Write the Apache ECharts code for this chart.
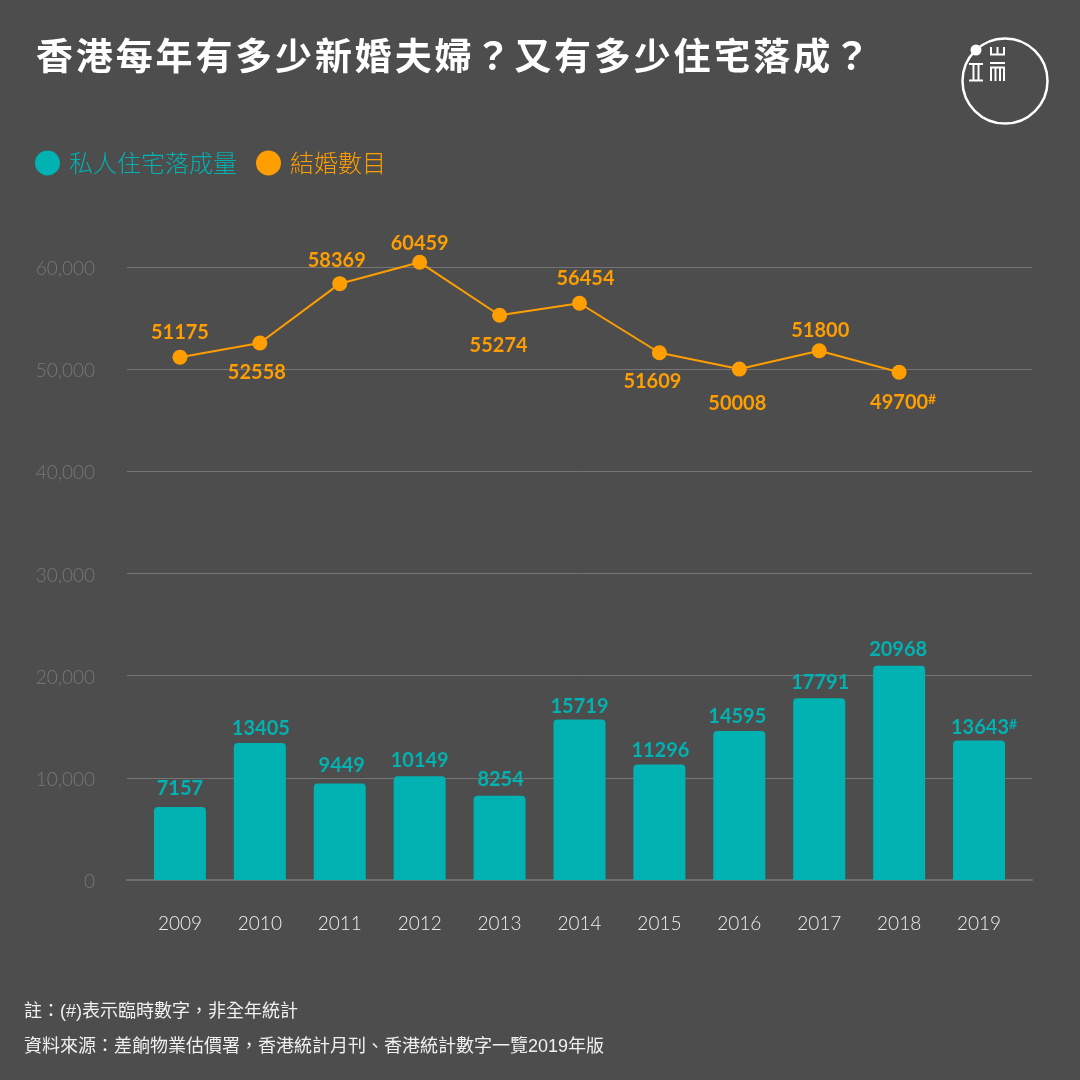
<!DOCTYPE html>
<html>
<head>
<meta charset="utf-8">
<title>香港每年有多少新婚夫婦？又有多少住宅落成？</title>
<style>
	html, body { margin: 0; padding: 0; background: #4d4d4d; }
	#box { width: 1080px; height: 1080px; }
	h1 {
		position: absolute;
		left: 36px;
		top: 35px;
		margin: 0;
		color: #fff;
		font: bold 37px/38px "Noto Sans CJK TC", "Noto Sans", sans-serif;
		letter-spacing: 2.85px;
		white-space: nowrap;
		z-index: 2;
	}
</style>
<script src="https://cdn.jsdelivr.net/npm/echarts@6/dist/echarts.min.js"></script>
</head>
<body>
<h1>香港每年有多少新婚夫婦？又有多少住宅落成？</h1>
<div id="box"></div>
<script>
var years = ['2009', '2010', '2011', '2012', '2013', '2014', '2015', '2016', '2017', '2018', '2019'];
var housing = [7157, 13405, 9449, 10149, 8254, 15719, 11296, 14595, 17791, 20968, 13643];
var marriages = [51175, 52558, 58369, 60459, 55274, 56454, 51609, 50008, 51800, 49700];
// the last figure of each series is provisional
var housingProvisional = [10];
var marriagesProvisional = [9];

// label placement, kept apart from the values
var housingLabelOffset = [[0, -3], [1, 1], [2, -3], [0, -1], [1, -1], [0, 2], [1, 1], [-2, 1], [1, -1], [-1, -1], [5, 2]];
var marriageLabelPos = ['top', 'bottom', 'top', 'top', 'bottom', 'top', 'bottom', 'bottom', 'top', 'bottom'];
var marriageLabelOffset = [[0, -2], [-3, 7], [-3, -1], [0, 4], [-1, 8], [6, -2], [-7, 6], [-2, 12], [1, 2], [4, 8]];

var TEAL = '#00b2b2';
var ORANGE = '#ff9e00';
var CJK = '"Noto Sans CJK TC", "Noto Sans", sans-serif';
var NUM = 'Lato, "Noto Sans", sans-serif';

function valueLabel(color) {
	return {
		show: true,
		color: color,
		fontFamily: NUM,
		fontWeight: 'bold',
		fontSize: 20,
		rich: {
			sup: { color: color, fontFamily: NUM, fontWeight: 'bold', fontSize: 14, verticalAlign: 'top', lineHeight: 14, padding: [0, 0, 4, 0] }
		}
	};
}

function labelText(params, provisional) {
	if (provisional.indexOf(params.dataIndex) >= 0) {
		return params.value + '{sup|#}';
	}
	return '' + params.value;
}

var chart = echarts.init(document.getElementById('box'));

var barData = housing.map(function(v, i) {
	return { value: v, label: { offset: housingLabelOffset[i] } };
});
var barLabel = valueLabel(TEAL);
barLabel.position = 'top';
barLabel.distance = 5;
barLabel.formatter = function(params) { return labelText(params, housingProvisional); };

var lineData = marriages.map(function(v, i) {
	return {
		value: v,
		label: { position: marriageLabelPos[i], offset: marriageLabelOffset[i] }
	};
});
var lineLabel = valueLabel(ORANGE);
lineLabel.formatter = function(params) { return labelText(params, marriagesProvisional); };

var logoLine = { stroke: '#fff', lineWidth: 2, fill: null };
var logoRing = { stroke: '#fff', lineWidth: 2.5, fill: null };
var noteFont = '"Liberation Sans", ' + CJK;

var option = {
	backgroundColor: '#4d4d4d',
	animation: false,
	title: [
		{
			text: '註：(#)表示臨時數字，非全年統計',
			left: 24,
			top: 1003,
			padding: 0,
			textStyle: { color: '#f0f0f0', fontFamily: noteFont, fontWeight: 'normal', fontSize: 18 }
		},
		{
			text: '資料來源：差餉物業估價署，香港統計月刊、香港統計數字一覽2019年版',
			left: 24,
			top: 1038,
			padding: 0,
			textStyle: { color: '#f0f0f0', fontFamily: noteFont, fontWeight: 'normal', fontSize: 18 }
		}
	],
	legend: {
		left: 35,
		top: 150.5,
		padding: 0,
		icon: 'circle',
		itemWidth: 25,
		itemHeight: 25,
		itemGap: 19,
		data: ['私人住宅落成量', '結婚數目'],
		textStyle: { color: 'inherit', fontFamily: CJK, fontWeight: 300, fontSize: 24, padding: [0, 0, 0, 4] }
	},
	grid: [
		{ left: 127, right: 48, top: 267, bottom: 200 },
		{ left: 140, width: 879, top: 267, bottom: 200 }
	],
	xAxis: [
		{
			gridIndex: 0,
			type: 'category',
			data: years,
			axisTick: { show: false },
			axisLabel: { show: false },
			axisLine: { lineStyle: { color: '#6e6e6e', width: 2 } }
		},
		{
			gridIndex: 1,
			type: 'category',
			data: years,
			axisTick: { show: false },
			axisLine: { show: false },
			axisLabel: { color: '#eeeeee', fontFamily: NUM, fontWeight: 300, fontSize: 19, margin: 34 }
		}
	],
	yAxis: [
		{
			gridIndex: 0,
			type: 'value',
			min: 0,
			max: 60000,
			interval: 10000,
			axisLine: { show: false },
			axisTick: { show: false },
			axisLabel: {
				margin: 32,
				formatter: function(v) { return '{tick|' + (v === 0 ? '0' : echarts.format.addCommas(v)) + '}'; },
				rich: {
					tick: { color: '#777', fontFamily: NUM, fontWeight: 300, fontSize: 19, padding: [4, 0, 0, 0] }
				}
			},
			splitLine: { lineStyle: { color: '#757575', width: 1 } }
		},
		{
			gridIndex: 1,
			type: 'value',
			min: 0,
			max: 60000,
			interval: 10000,
			show: false
		}
	],
	series: [
		{
			name: '私人住宅落成量',
			type: 'bar',
			xAxisIndex: 1,
			yAxisIndex: 1,
			barWidth: 52,
			data: barData,
			itemStyle: { color: TEAL, borderRadius: [4, 4, 0, 0] },
			label: barLabel
		},
		{
			name: '結婚數目',
			type: 'line',
			xAxisIndex: 1,
			yAxisIndex: 1,
			clip: false,
			data: lineData,
			symbol: 'circle',
			symbolSize: 15,
			itemStyle: { color: ORANGE },
			lineStyle: { color: ORANGE, width: 2 },
			label: lineLabel
		}
	],
	graphic: [
		{ type: 'circle', shape: { cx: 1005, cy: 81, r: 42.5 }, style: logoRing },
		{ type: 'circle', shape: { cx: 976, cy: 50, r: 5.5 }, style: { fill: '#fff' } },
		// left part of the logo mark
		{ type: 'polyline', shape: { points: [[969, 64], [983, 64]] }, style: logoLine },
		{ type: 'polyline', shape: { points: [[969, 80.5], [983, 80.5]] }, style: logoLine },
		{ type: 'polyline', shape: { points: [[973.5, 64], [973.5, 80]] }, style: logoLine },
		{ type: 'polyline', shape: { points: [[978.5, 64], [978.5, 80]] }, style: logoLine },
		// top right part
		{ type: 'polyline', shape: { points: [[991, 47], [991, 54.5], [1004, 54.5], [1004, 47]] }, style: logoLine },
		{ type: 'polyline', shape: { points: [[997.5, 47], [997.5, 54]] }, style: logoLine },
		// bottom right part
		{ type: 'polyline', shape: { points: [[990, 63], [1005, 63]] }, style: logoLine },
		{ type: 'polyline', shape: { points: [[991, 81], [991, 67.5], [1004, 67.5], [1004, 81]] }, style: logoLine },
		{ type: 'polyline', shape: { points: [[995.5, 68], [995.5, 81]] }, style: logoLine },
		{ type: 'polyline', shape: { points: [[1000, 68], [1000, 81]] }, style: logoLine }
	]
};

chart.setOption(option);
</script>
</body>
</html>
